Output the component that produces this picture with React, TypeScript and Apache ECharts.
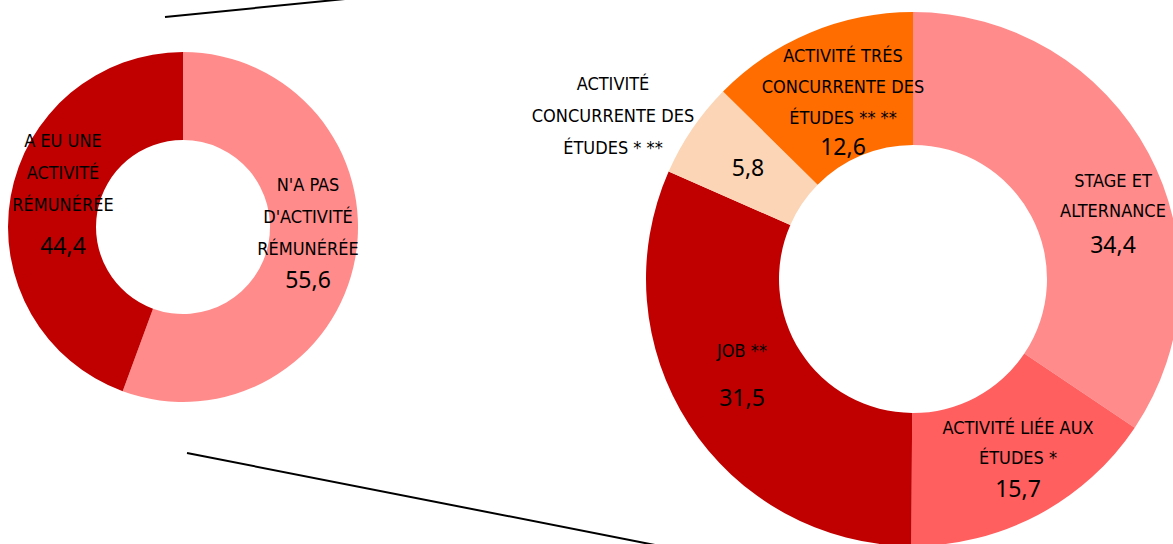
import React, { useEffect, useRef } from "react";
import * as echarts from "echarts";

// ---- Data ----
const leftNames = ["N'A PAS\nD'ACTIVITÉ\nRÉMUNÉRÉE", "A EU UNE\nACTIVITÉ\nRÉMUNÉRÉE"];
const leftValues = [55.6, 44.4];
const leftColors = ["#FF8B8B", "#C00000"];

const rightNames = [
  "STAGE ET\nALTERNANCE",
  "ACTIVITÉ LIÉE AUX\nÉTUDES *",
  "JOB **",
  "ACTIVITÉ\nCONCURRENTE DES\nÉTUDES * **",
  "ACTIVITÉ TRÉS\nCONCURRENTE DES\nÉTUDES ** **",
];
const rightValues = [34.4, 15.7, 31.5, 5.8, 12.6];
const rightColors = ["#FF8B8B", "#FF5F5F", "#C00000", "#FBD5B5", "#FF6D00"];

// ---- Label layout (positions / line heights, not data) ----
const leftLabelPos = [
  { x: 308, y: 231, lh: 32, vlh: 30 },
  { x: 63, y: 197, lh: 32, vlh: 50 },
];
const rightLabelPos = [
  { x: 1113, y: 214, lh: 30, vlh: 38 },
  { x: 1018, y: 458, lh: 30, vlh: 32 },
  { x: 742, y: 381, lh: 32, vlh: 62 },
  { x: 613, y: 115, lh: 32, vlh: 0 },
  { x: 843, y: 99, lh: 31, vlh: 25 },
];
const valueOnlyIndex = 3;
const valueOnlyPos = { x: 748, y: 167 };

const NAME_FONT = "'Liberation Sans Narrow', 'DejaVu Sans Condensed', 'Arial Narrow', sans-serif";
const NUM_FONT = "'Noto Sans', 'Open Sans', sans-serif";

const fmt = (v: number) => v.toFixed(1).replace(".", ",");

function richFor(lh: number, vlh: number) {
  return {
    t: { fontFamily: NAME_FONT, fontSize: 18, lineHeight: lh, color: "#000" },
    v: { fontFamily: NUM_FONT, fontSize: 23, lineHeight: vlh || 30, color: "#000" },
  };
}

function buildItems(names: string[], values: number[], colors: string[], pos: any[], skipValue: number) {
  return names.map((n, i) => ({
    name: n,
    value: values[i],
    itemStyle: { color: colors[i] },
    label: {
      show: true,
      position: "inside",
      align: "center",
      verticalAlign: "middle",
      rich: richFor(pos[i].lh, pos[i].vlh),
      formatter: () => {
        const lines = n.split("\n").map((l) => `{t|${l}}`).join("\n");
        return i === skipValue ? lines : `${lines}\n{v|${fmt(values[i])}}`;
      },
    },
  }));
}

export default function App() {
  const ref = useRef<HTMLDivElement>(null);
  useEffect(() => {
    if (!ref.current) return;
    const chart = echarts.init(ref.current, undefined, { renderer: "svg" });
    const option: any = {
      animation: false,
      backgroundColor: "#fff",
      graphic: [
        { type: "line", shape: { x1: 165, y1: 17, x2: 345, y2: -1 }, style: { stroke: "#000", lineWidth: 2 }, z: 0 },
        { type: "line", shape: { x1: 187, y1: 453, x2: 655, y2: 545 }, style: { stroke: "#000", lineWidth: 2 }, z: 0 },
      ],
      series: [
        {
          type: "pie",
          center: [183, 227],
          radius: [87, 175],
          startAngle: 90,
          clockwise: true,
          silent: true,
          labelLine: { show: false },
          data: buildItems(leftNames, leftValues, leftColors, leftLabelPos, -1),
          labelLayout: (p: any) => ({ x: leftLabelPos[p.dataIndex].x, y: leftLabelPos[p.dataIndex].y }),
        },
        {
          type: "pie",
          center: [913, 279],
          radius: [134, 267],
          startAngle: 90,
          clockwise: true,
          silent: true,
          labelLine: { show: false },
          data: buildItems(rightNames, rightValues, rightColors, rightLabelPos, valueOnlyIndex),
          labelLayout: (p: any) => ({ x: rightLabelPos[p.dataIndex].x, y: rightLabelPos[p.dataIndex].y }),
        },
        {
          type: "pie",
          center: [913, 279],
          radius: [134, 267],
          startAngle: 90,
          clockwise: true,
          silent: true,
          z: 3,
          labelLine: { show: false },
          itemStyle: { color: "rgba(0,0,0,0)" },
          data: rightNames.map((n, i) => ({
            name: n + " ",
            value: rightValues[i],
            label: {
              show: i === valueOnlyIndex,
              position: "inside",
              fontFamily: NUM_FONT,
              fontSize: 23,
              color: "#000",
              formatter: () => fmt(rightValues[i]),
            },
          })),
          labelLayout: () => ({ x: valueOnlyPos.x, y: valueOnlyPos.y }),
        },
      ],
    };
    chart.setOption(option);
    return () => chart.dispose();
  }, []);
  return (
    <div
      ref={ref}
      style={{ position: "fixed", left: 0, top: 0, width: 1173, height: 544, background: "#fff" }}
    />
  );
}
